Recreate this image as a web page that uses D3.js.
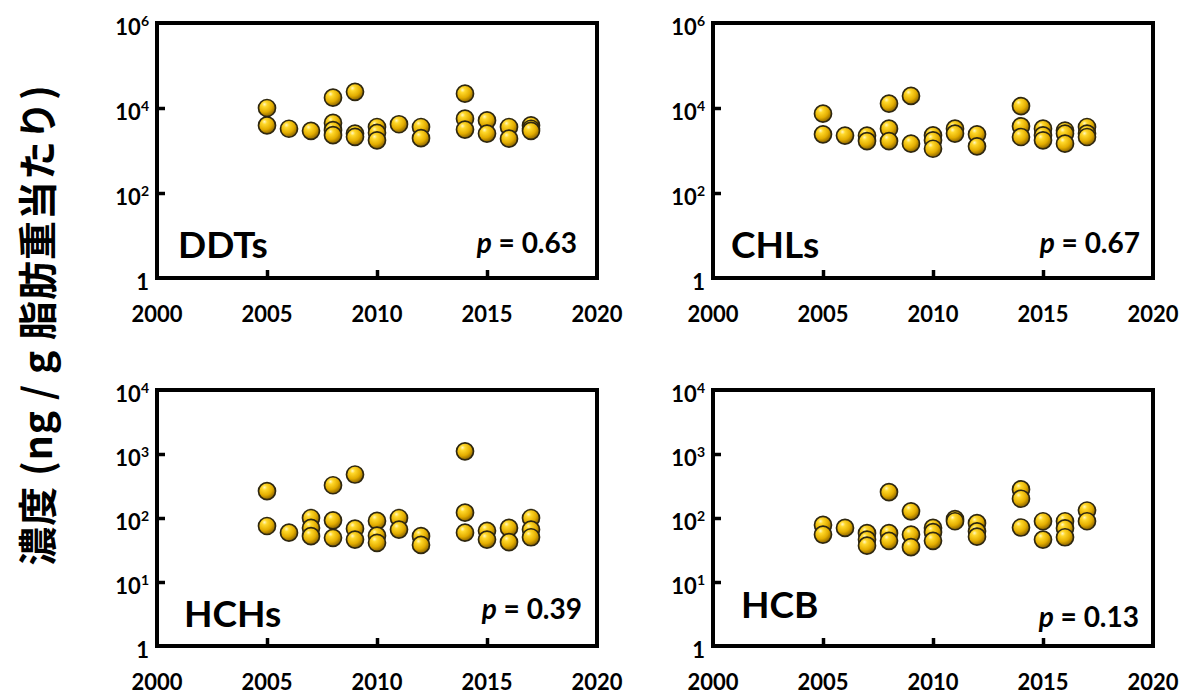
<!DOCTYPE html>
<html>
<head>
<meta charset="utf-8">
<script src="https://cdn.jsdelivr.net/npm/d3@7"></script>
<style>
    body { margin: 0; background: #fff; }
    text { font-family: Lato, "Noto Sans", sans-serif; font-weight: bold; fill: #000; }
</style>
</head>
<body>
<script>
// --- data (year, concentration ng/g lipid) ---
var ddtYears  = [2005, 2005, 2006, 2007, 2008, 2008, 2008, 2008, 2009, 2009, 2009, 2010, 2010, 2010, 2011, 2012, 2012, 2014, 2014, 2014, 2015, 2015, 2016, 2016, 2017, 2017, 2017];
var ddtValues = [10000, 3900, 3250, 2900, 17500, 4450, 3000, 2300, 24000, 2500, 2100, 3570, 2600, 1740, 4150, 3570, 1950, 21700, 5600, 3100, 5100, 2500, 3570, 1900, 3900, 3250, 2900];

var chlYears  = [2005, 2005, 2006, 2007, 2007, 2008, 2008, 2008, 2009, 2009, 2010, 2010, 2010, 2011, 2011, 2012, 2012, 2014, 2014, 2014, 2015, 2015, 2015, 2016, 2016, 2016, 2017, 2017, 2017];
var chlValues = [7350, 2400, 2240, 2240, 1670, 12700, 3260, 1670, 19200, 1450, 2270, 1740, 1100, 3260, 2500, 2400, 1255, 11100, 3700, 2080, 3260, 2270, 1740, 2950, 2500, 1450, 3570, 2500, 2080];

var hchYears  = [2005, 2005, 2006, 2007, 2007, 2007, 2008, 2008, 2008, 2009, 2009, 2009, 2010, 2010, 2010, 2011, 2011, 2012, 2012, 2014, 2014, 2014, 2015, 2015, 2016, 2016, 2017, 2017, 2017];
var hchValues = [263, 75, 59, 100, 70, 52, 325, 92, 49, 478, 68, 46, 90, 53, 41, 100, 66, 52, 38, 1100, 121, 59, 63, 46, 70, 42, 100, 66, 50];

var hcbYears  = [2005, 2005, 2006, 2007, 2007, 2007, 2008, 2008, 2008, 2009, 2009, 2009, 2010, 2010, 2010, 2011, 2011, 2012, 2012, 2012, 2014, 2014, 2014, 2015, 2015, 2016, 2016, 2016, 2017, 2017];
var hcbValues = [78, 55, 70, 58, 46, 37, 254, 58, 44, 127, 55, 35, 70, 60, 44, 96, 89, 83, 62, 51, 280, 200, 71, 89, 46, 89, 69, 50, 131, 89];

var panelNames = ["DDTs", "CHLs", "HCHs", "HCB"];
var pValues = ["0.63", "0.67", "0.39", "0.13"];
var yearTicks = [2000, 2005, 2010, 2015, 2020];
var topTicks = [1, 1e2, 1e4, 1e6];
var bottomTicks = [1, 1e1, 1e2, 1e3, 1e4];
var yTitle = "濃度 (ng / g 脂肪重当たり)";

var panels = [
    {name: panelNames[0], p: pValues[0], years: ddtYears, values: ddtValues, ticks: topTicks,
        x: 157, y: 23, w: 440, h: 255, lx: 21, ly: 235, px: 20, py: 230},
    {name: panelNames[1], p: pValues[1], years: chlYears, values: chlValues, ticks: topTicks,
        x: 713, y: 23, w: 440, h: 255, lx: 18, ly: 235, px: 13, py: 230},
    {name: panelNames[2], p: pValues[2], years: hchYears, values: hchValues, ticks: bottomTicks,
        x: 157, y: 390, w: 440, h: 256, lx: 27, ly: 237, px: 15, py: 229},
    {name: panelNames[3], p: pValues[3], years: hcbYears, values: hcbValues, ticks: bottomTicks,
        x: 713, y: 390, w: 440, h: 256, lx: 28, ly: 228, px: 14, py: 237}
];

var width = 1186,
    height = 695;

var svg = d3.select("body").append("svg")
    .attr("width", width)
    .attr("height", height);

var defs = svg.append("defs");
var grad = defs.append("radialGradient")
    .attr("id", "ball")
    .attr("cx", "38%").attr("cy", "32%").attr("r", "68%")
    .attr("fx", "35%").attr("fy", "28%");
grad.append("stop").attr("offset", "0%").attr("stop-color", "#fff7c2");
grad.append("stop").attr("offset", "22%").attr("stop-color", "#ffd82a");
grad.append("stop").attr("offset", "65%").attr("stop-color", "#e3ad00");
grad.append("stop").attr("offset", "100%").attr("stop-color", "#8c6500");

panels.forEach(function (pn) {
    var g = svg.append("g").attr("transform", "translate(" + pn.x + "," + pn.y + ")");

    var x = d3.scaleLinear().domain([2000, 2020]).range([0, pn.w]);
    var y = d3.scaleLog().domain([1, pn.ticks[pn.ticks.length - 1]]).range([pn.h, 0]);

    // inward ticks on left and bottom
    var yAxis = d3.axisRight(y).tickValues(pn.ticks.slice(1, -1)).tickSize(8).tickFormat("");
    var xAxis = d3.axisTop(x).tickValues(yearTicks.slice(1, -1)).tickSize(8).tickFormat("");

    g.append("g").call(yAxis)
        .call(function (s) { s.select(".domain").remove(); })
        .selectAll("line").attr("stroke", "#000").attr("stroke-width", 3.5);
    g.append("g").attr("transform", "translate(0," + pn.h + ")").call(xAxis)
        .call(function (s) { s.select(".domain").remove(); })
        .selectAll("line").attr("stroke", "#000").attr("stroke-width", 3.5);

    // tick labels: 10 with a superscript exponent
    var yl = g.selectAll(".ylab").data(pn.ticks).enter().append("text")
        .attr("x", -8)
        .attr("y", function (d) { return y(d) + 12; })
        .attr("text-anchor", "end")
        .style("font-size", "22px");
    yl.append("tspan").text(function (d) { return d === 1 ? "1" : "10"; });
    yl.filter(function (d) { return d !== 1; }).append("tspan")
        .attr("dy", -9)
        .style("font-size", "14px")
        .text(function (d) { return Math.round(Math.log10(d)); });

    g.selectAll(".xlab").data(yearTicks).enter().append("text")
        .attr("x", function (d) { return x(d); })
        .attr("y", pn.h + 44)
        .attr("text-anchor", "middle")
        .style("font-size", "22px")
        .text(function (d) { return d; });

    // points
    var pts = pn.years.map(function (yr, i) { return {year: yr, value: pn.values[i]}; });
    g.selectAll("circle").data(pts).enter().append("circle")
        .attr("cx", function (d) { return x(d.year); })
        .attr("cy", function (d) { return y(d.value); })
        .attr("r", 8.5)
        .attr("fill", "url(#ball)")
        .attr("stroke", "#2e2710")
        .attr("stroke-width", 1.7);

    // frame
    g.append("rect")
        .attr("width", pn.w).attr("height", pn.h)
        .attr("fill", "none")
        .attr("stroke", "#000")
        .attr("stroke-width", 4);

    g.append("text")
        .attr("x", pn.lx).attr("y", pn.ly)
        .style("font-size", "37px")
        .text(pn.name);

    var pt = g.append("text")
        .attr("x", pn.w - pn.px).attr("y", pn.py)
        .attr("text-anchor", "end")
        .style("font-size", "28px");
    pt.append("tspan").style("font-style", "italic").text("p");
    pt.append("tspan").text(" = " + pn.p);
});

svg.append("text")
    .attr("transform", "translate(52,325) rotate(-90)")
    .attr("text-anchor", "middle")
    .style("font-family", "'Noto Sans CJK JP', sans-serif")
    .style("font-size", "39px")
    .style("letter-spacing", "1px")
    .text(yTitle);
</script>
</body>
</html>
